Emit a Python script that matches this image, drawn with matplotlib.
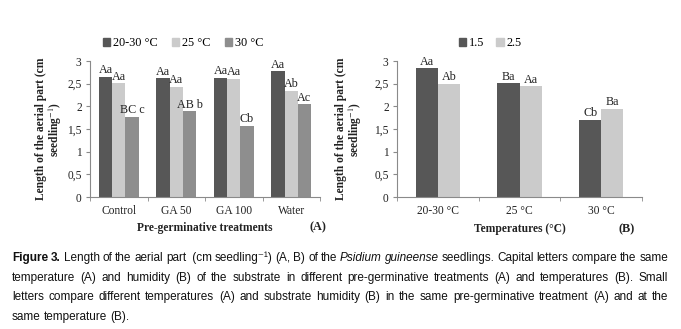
import numpy as np
import matplotlib
matplotlib.use("Agg")
import matplotlib.pyplot as plt
import matplotlib.patches as patches
from matplotlib import font_manager

# ---------------------------------------------------------------- data
treatments = ["Control", "GA 50", "GA 100", "Water"]
temp_labels = ["20-30 °C", "25 °C", "30 °C"]
len_2030 = [2.65, 2.62, 2.63, 2.78]
len_25 = [2.51, 2.43, 2.61, 2.34]
len_30 = [1.77, 1.89, 1.57, 2.05]
let_2030 = ["Aa", "Aa", "Aa", "Aa"]
let_25 = ["Aa", "Aa", "Aa", "Ab"]
let_30 = ["BC c", "AB b", "Cb", "Ac"]

temperatures = ["20-30 °C", "25 °C", "30 °C"]
hum_labels = ["1.5", "2.5"]
len_h15 = [2.84, 2.51, 1.70]
len_h25 = [2.50, 2.44, 1.95]
let_h15 = ["Aa", "Ba", "Cb"]
let_h25 = ["Ab", "Aa", "Ba"]

yticks = [0, 0.5, 1, 1.5, 2, 2.5, 3]
ytick_labels = ["0", "0,5", "1", "1,5", "2", "2,5", "3"]

# ---------------------------------------------------------------- style
plt.rcParams["mathtext.fontset"] = "stix"
serif = ["Liberation Serif", "DejaVu Serif"]
names = {f.name for f in font_manager.fontManager.ttflist}
narrow = "Liberation Sans Narrow" if "Liberation Sans Narrow" in names else "Liberation Sans"
sans = [narrow, "DejaVu Sans"]

txt_col = "#222222"
ax_col = "#8a8a8a"
colors3 = ["#575757", "#cbcbcb", "#8e8e8e"]
colors2 = ["#575757", "#cbcbcb"]
fs = 8.3

fig = plt.figure(figsize=(6.81, 3.29), dpi=100)


def style_axes(ax, n, lab_x):
	for s in ["top", "right"]:
		ax.spines[s].set_visible(False)
	for s in ["left", "bottom"]:
		ax.spines[s].set_color(ax_col)
		ax.spines[s].set_linewidth(0.8)
	ax.set_ylim(0, 3)
	ax.set_xlim(-0.5, n - 0.5)
	ax.set_yticks(yticks)
	ax.set_yticklabels(ytick_labels, family=serif, fontsize=fs, color=txt_col)
	ax.set_xticks(np.arange(n))
	ax.set_xticks(np.arange(n + 1) - 0.5, minor=True)
	ax.tick_params(axis="x", which="major", length=0, pad=6)
	ax.tick_params(axis="x", which="minor", length=3, color=ax_col, direction="out")
	ax.tick_params(axis="y", length=3, color=ax_col, direction="out", pad=3)
	ax.set_ylabel("Length of the aerial part (cm\nseedling$^{-1}$)", family=serif,
		fontsize=fs, fontweight="bold", color=txt_col, linespacing=1.0)
	ax.yaxis.set_label_coords(lab_x, 0.5)


def bars(ax, series, letters, cols, width):
	k = len(series)
	x = np.arange(len(series[0]))
	for i in range(k):
		off = (i - (k - 1) / 2) * width
		ax.bar(x + off, series[i], width, color=cols[i], linewidth=0)
		for xi, v, lab in zip(x + off, series[i], letters[i]):
			ax.text(xi, v + 0.01, lab, ha="center", va="bottom", family=serif,
				fontsize=fs + 0.4, color=txt_col)


# ---------------------------------------------------------------- panel A
axA = fig.add_axes([90 / 681, 1 - 197 / 329, 230 / 681, 136 / 329])
bars(axA, [len_2030, len_25, len_30], [let_2030, let_25, let_30], colors3, 0.23)
style_axes(axA, len(treatments), (64 - 90) / 230)
axA.set_xticklabels(treatments, family=serif, fontsize=fs, color=txt_col)
axA.set_xlabel("Pre-germinative treatments", family=serif, fontsize=fs,
	fontweight="bold", color=txt_col, labelpad=3)
fig.text(318 / 681, 1 - 227 / 329, "(A)", family=serif, fontsize=fs + 0.5,
	fontweight="bold", color=txt_col, ha="center", va="center")
hA = [patches.Patch(color=c) for c in colors3]
fig.legend(hA, temp_labels, loc="center", bbox_to_anchor=(183 / 681, 1 - 43 / 329),
	ncol=3, frameon=False, handlelength=0.6, handleheight=0.6, handletextpad=0.2,
	columnspacing=1.2, prop={"family": serif, "size": fs + 0.5})

# ---------------------------------------------------------------- panel B
axB = fig.add_axes([397 / 681, 1 - 197 / 329, 245 / 681, 136 / 329])
bars(axB, [len_h15, len_h25], [let_h15, let_h25], colors2, 0.27)
style_axes(axB, len(temperatures), (364 - 397) / 245)
axB.set_xticklabels(temperatures, family=serif, fontsize=fs, color=txt_col)
axB.set_xlabel("Temperatures (°C)", family=serif, fontsize=fs,
	fontweight="bold", color=txt_col, labelpad=4)
fig.text(627 / 681, 1 - 229 / 329, "(B)", family=serif, fontsize=fs + 0.5,
	fontweight="bold", color=txt_col, ha="center", va="center")
hB = [patches.Patch(color=c) for c in colors2]
fig.legend(hB, hum_labels, loc="center", bbox_to_anchor=(490 / 681, 1 - 43 / 329),
	ncol=2, frameon=False, handlelength=0.6, handleheight=0.6, handletextpad=0.2,
	columnspacing=1.0, prop={"family": serif, "size": fs + 0.5})

# ---------------------------------------------------------------- caption
cap_lines = [
	[("Figure", "bold"), ("3.", "bold"), ("Length", ""), ("of", ""), ("the", ""), ("aerial", ""),
	 ("part", ""), (" (cm", ""), ("seedling⁻¹)", ""), ("(A,", ""), ("B)", ""), ("of", ""),
	 ("the", ""), ("Psidium", "italic"), ("guineense", "italic"), ("seedlings.", ""),
	 ("Capital", ""), ("letters", ""), ("compare", ""), ("the", ""), ("same", "")],
	[(w, "") for w in "temperature (A) and humidity (B) of the substrate in different "
	 "pre-germinative treatments (A) and temperatures (B). Small".split()],
	[(w, "") for w in "letters compare different temperatures (A) and substrate humidity (B) "
	 "in the same pre-germinative treatment (A) and at the".split()],
	[(w, "") for w in "same temperature (B).".split()],
]
cap_y = [258, 278, 297, 317]
x_left, x_right = 12, 668
renderer = fig.canvas.get_renderer()


def make_line(line, yp, size):
	items = []
	for w, st in line:
		t = fig.text(0, 1 - yp / 329, w, family=sans, fontsize=size, color="#111111",
			fontweight="bold" if st == "bold" else "normal",
			fontstyle="italic" if st == "italic" else "normal", va="center", ha="left")
		items.append(t)
	widths = [t.get_window_extent(renderer).width for t in items]
	return items, widths


# font size at which every justified line fits with normal word gaps
base = 10.0
scale = 1.0
for line in cap_lines[:-1]:
	items, widths = make_line(line, 0, base)
	natural = sum(widths) + 0.22 * base * 100 / 72 * (len(items) - 1)
	scale = min(scale, (x_right - x_left) / natural)
	for t in items:
		t.remove()
cap_fs = base * scale

for li, (line, yp) in enumerate(zip(cap_lines, cap_y)):
	items, widths = make_line(line, yp, cap_fs)
	if li < len(cap_lines) - 1:
		gap = (x_right - x_left - sum(widths)) / (len(items) - 1)
	else:
		gap = 0.25 * cap_fs * 100 / 72
	xp = x_left
	for t, wd in zip(items, widths):
		t.set_x(xp / 681)
		xp += wd + gap

fig.savefig("out.png", dpi=100)
